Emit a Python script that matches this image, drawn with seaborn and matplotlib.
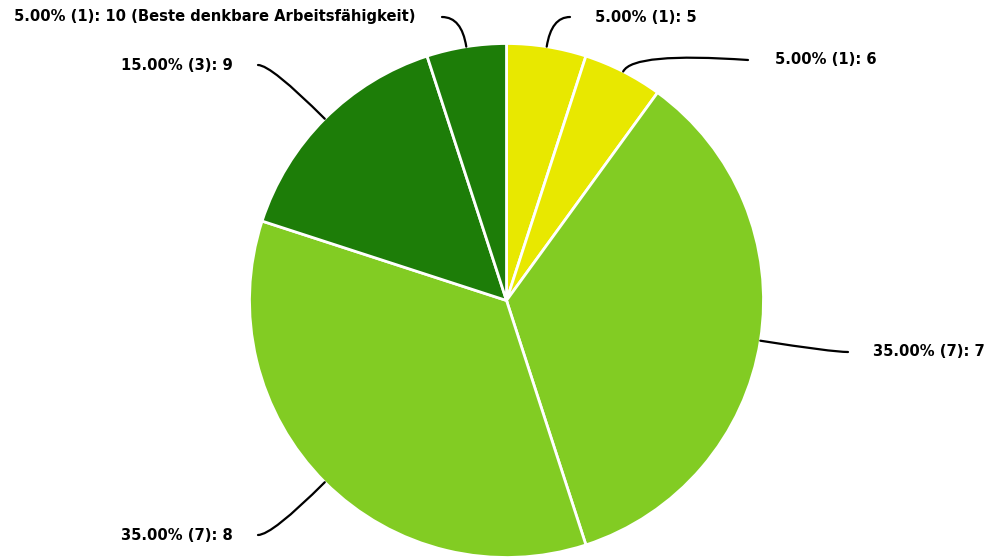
import matplotlib
matplotlib.use("Agg")
import matplotlib.pyplot as plt
import seaborn as sns
import numpy as np

categories = ["5", "6", "7", "8", "9", "10 (Beste denkbare Arbeitsfähigkeit)"]
counts = [1, 1, 7, 7, 3, 1]
colors = ["#e8e800", "#e8e800", "#82cc23", "#82cc23", "#1d7d08", "#1d7d08"]

sns.set_style("white")
plt.rcParams["font.family"] = ["DejaVu Sans"]

W, H = 984, 558
fig = plt.figure(figsize=(W / 100, H / 100), dpi=100)
ax = fig.add_axes([0, 0, 1, 1])

cx, cy, R = 506.5, H - 300.5, 257
wedges, _ = ax.pie(counts, colors=colors, startangle=90, counterclock=False,
                   center=(cx, cy), radius=R,
                   wedgeprops=dict(edgecolor="white", linewidth=2))
ax.set_xlim(0, W)
ax.set_ylim(0, H)
ax.set_aspect("equal")
ax.axis("off")

total = sum(counts)
# layout: (line end x, line end y in px from top, text x, text alignment, start angle)
layout = [
    (570, 17, 595, "left", 0),
    (748, 60, 775, "left", -4),
    (848, 352, 873, "left", 0),
    (258, 535, 233, "right", 0),
    (258, 65, 233, "right", 0),
    (442, 17, 415, "right", 0),
]
for w, c, cat, (lx, ly, tx, ha, a0) in zip(wedges, counts, categories, layout):
    ang = (w.theta1 + w.theta2) / 2
    ex = cx + R * np.cos(np.radians(ang))
    ey = cy + R * np.sin(np.radians(ang))
    ax.annotate("", xy=(ex, ey), xytext=(lx, H - ly),
                arrowprops=dict(arrowstyle="-", color="black", lw=1.6,
                                shrinkA=0, shrinkB=0,
                                connectionstyle=f"angle3,angleA={a0},angleB={ang}"))
    label = f"{100 * c / total:.2f}% ({c}): {cat}"
    ax.text(tx, H - ly, label, ha=ha, va="center", fontsize=10.6,
            fontweight="bold", color="black")

fig.savefig("out.png", dpi=100)
